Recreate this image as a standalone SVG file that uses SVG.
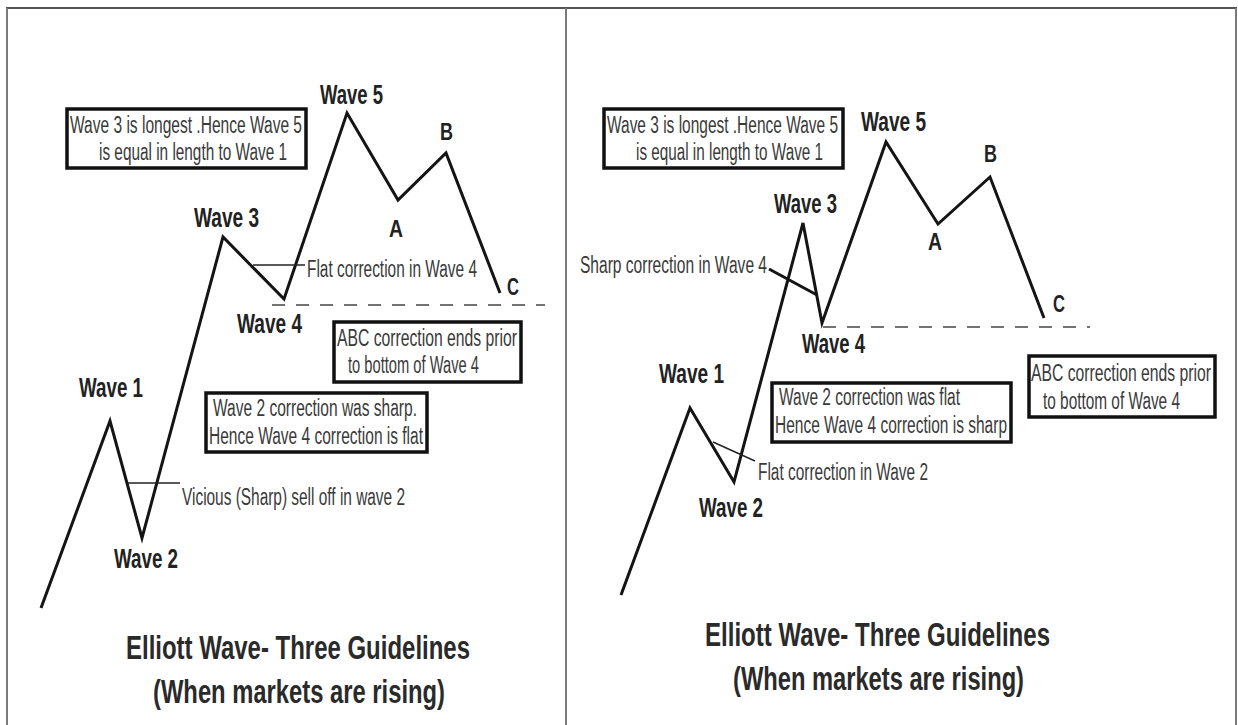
<svg xmlns="http://www.w3.org/2000/svg" width="1238" height="725" viewBox="0 0 1238 725">
<style>
.frame{fill:none;stroke:#7a7a7a;stroke-width:2}
.wave{fill:none;stroke:#141414;stroke-width:3;stroke-linejoin:miter}
.dash{fill:none;stroke:#444;stroke-width:1.5;stroke-dasharray:13 11}
.lead{fill:none;stroke:#222;stroke-width:1.4}
.leadb{fill:none;stroke:#141414;stroke-width:3}
.box{fill:none;stroke:#111;stroke-width:3.5}
.lbl{font-family:"Liberation Sans",Arial,sans-serif;font-weight:bold;font-size:27px;fill:#222}
.abc{font-family:"Liberation Sans",Arial,sans-serif;font-weight:bold;font-size:24px;fill:#222}
.note{font-family:"Liberation Sans",Arial,sans-serif;font-size:23.5px;fill:#3a3a3a}
.title{font-family:"Liberation Sans",Arial,sans-serif;font-weight:bold;font-size:32.5px;fill:#2a2a2a}
</style>
<rect width="1238" height="725" fill="#ffffff"/>
<g id="frame">
<line x1="6" y1="8" x2="1237" y2="8" stroke="#555" stroke-width="2"/>
<line class="frame" x1="7" y1="8" x2="7" y2="725"/>
<line class="frame" x1="566" y1="8" x2="566" y2="725"/>
<line class="frame" x1="1236" y1="8" x2="1236" y2="725"/>
</g>
<g id="connectors">
<polyline class="wave" points="41,608 110,421 142,538 223,237 284,299 347,113 398,200 446,153 500,293"/>
<line class="dash" x1="272" y1="305" x2="545" y2="305"/>
<line class="lead" x1="253" y1="265" x2="305" y2="265"/>
<line class="lead" x1="128" y1="483" x2="180" y2="483"/>
<polyline class="wave" points="621,595 690,408 734,482 803,223 822,323 886,142 938,224 990,177 1044,318"/>
<line class="dash" x1="823" y1="327" x2="1090" y2="327"/>
<line class="leadb" x1="769" y1="269" x2="817" y2="295"/>
<line class="lead" x1="713" y1="442" x2="755" y2="461"/>
</g>
<g id="left-wave-labels">
<text class="lbl" x="320" y="104" textLength="63" lengthAdjust="spacingAndGlyphs">Wave 5</text>
<text class="lbl" x="194" y="227" textLength="65" lengthAdjust="spacingAndGlyphs">Wave 3</text>
<text class="lbl" x="237" y="333" textLength="65" lengthAdjust="spacingAndGlyphs">Wave 4</text>
<text class="lbl" x="79" y="397" textLength="64" lengthAdjust="spacingAndGlyphs">Wave 1</text>
<text class="lbl" x="114" y="568" textLength="64" lengthAdjust="spacingAndGlyphs">Wave 2</text>
<text class="abc" x="389" y="237" textLength="14" lengthAdjust="spacingAndGlyphs">A</text>
<text class="abc" x="440" y="140" textLength="13" lengthAdjust="spacingAndGlyphs">B</text>
<text class="abc" x="507" y="295" textLength="12" lengthAdjust="spacingAndGlyphs">C</text>
</g>
<g id="left-box-longest">
<rect class="box" x="67" y="109" width="239" height="59"/>
<text class="note" x="70" y="133" textLength="232" lengthAdjust="spacingAndGlyphs">Wave 3 is longest .Hence Wave 5</text>
<text class="note" x="99" y="160" textLength="188" lengthAdjust="spacingAndGlyphs">is equal in length to Wave 1</text>
</g>
<g id="left-note-flat">
<text class="note" x="307" y="277" textLength="170" lengthAdjust="spacingAndGlyphs">Flat correction in Wave 4</text>
</g>
<g id="left-box-abc">
<rect class="box" x="334" y="322" width="187" height="60"/>
<text class="note" x="337" y="346" textLength="180" lengthAdjust="spacingAndGlyphs">ABC correction ends prior</text>
<text class="note" x="348" y="373" textLength="131" lengthAdjust="spacingAndGlyphs">to bottom of Wave 4</text>
</g>
<g id="left-box-sharp">
<rect class="box" x="206" y="393" width="221" height="59"/>
<text class="note" x="213" y="416" textLength="204" lengthAdjust="spacingAndGlyphs">Wave 2 correction was sharp.</text>
<text class="note" x="209" y="444" textLength="214" lengthAdjust="spacingAndGlyphs">Hence Wave 4 correction is flat</text>
</g>
<g id="left-note-vicious">
<text class="note" x="182" y="505" textLength="223" lengthAdjust="spacingAndGlyphs">Vicious (Sharp) sell off in wave 2</text>
</g>
<g id="left-title">
<text class="title" x="126" y="659" textLength="344" lengthAdjust="spacingAndGlyphs">Elliott Wave- Three Guidelines</text>
<text class="title" x="153" y="703" textLength="292" lengthAdjust="spacingAndGlyphs">(When markets are rising)</text>
</g>
<g id="right-wave-labels">
<text class="lbl" x="861" y="131" textLength="65" lengthAdjust="spacingAndGlyphs">Wave 5</text>
<text class="lbl" x="774" y="213" textLength="63" lengthAdjust="spacingAndGlyphs">Wave 3</text>
<text class="lbl" x="802" y="353" textLength="63" lengthAdjust="spacingAndGlyphs">Wave 4</text>
<text class="lbl" x="659" y="383" textLength="65" lengthAdjust="spacingAndGlyphs">Wave 1</text>
<text class="lbl" x="699" y="517" textLength="64" lengthAdjust="spacingAndGlyphs">Wave 2</text>
<text class="abc" x="928" y="250" textLength="14" lengthAdjust="spacingAndGlyphs">A</text>
<text class="abc" x="984" y="162" textLength="13" lengthAdjust="spacingAndGlyphs">B</text>
<text class="abc" x="1053" y="312" textLength="12" lengthAdjust="spacingAndGlyphs">C</text>
</g>
<g id="right-box-longest">
<rect class="box" x="604" y="109" width="239" height="59"/>
<text class="note" x="607" y="133" textLength="231" lengthAdjust="spacingAndGlyphs">Wave 3 is longest .Hence Wave 5</text>
<text class="note" x="636" y="160" textLength="187" lengthAdjust="spacingAndGlyphs">is equal in length to Wave 1</text>
</g>
<g id="right-note-sharp">
<text class="note" x="580" y="273" textLength="187" lengthAdjust="spacingAndGlyphs">Sharp correction in Wave 4</text>
</g>
<g id="right-box-abc">
<rect class="box" x="1029" y="356" width="186" height="61"/>
<text class="note" x="1031" y="381" textLength="180" lengthAdjust="spacingAndGlyphs">ABC correction ends prior</text>
<text class="note" x="1043" y="409" textLength="137" lengthAdjust="spacingAndGlyphs">to bottom of Wave 4</text>
</g>
<g id="right-box-flat">
<rect class="box" x="772" y="383" width="239" height="59"/>
<text class="note" x="779" y="405" textLength="181" lengthAdjust="spacingAndGlyphs">Wave 2 correction was flat</text>
<text class="note" x="775" y="433" textLength="232" lengthAdjust="spacingAndGlyphs">Hence Wave 4 correction is sharp</text>
</g>
<g id="right-note-flat">
<text class="note" x="758" y="480" textLength="170" lengthAdjust="spacingAndGlyphs">Flat correction in Wave 2</text>
</g>
<g id="right-title">
<text class="title" x="705" y="646" textLength="345" lengthAdjust="spacingAndGlyphs">Elliott Wave- Three Guidelines</text>
<text class="title" x="733" y="690" textLength="291" lengthAdjust="spacingAndGlyphs">(When markets are rising)</text>
</g>
</svg>
